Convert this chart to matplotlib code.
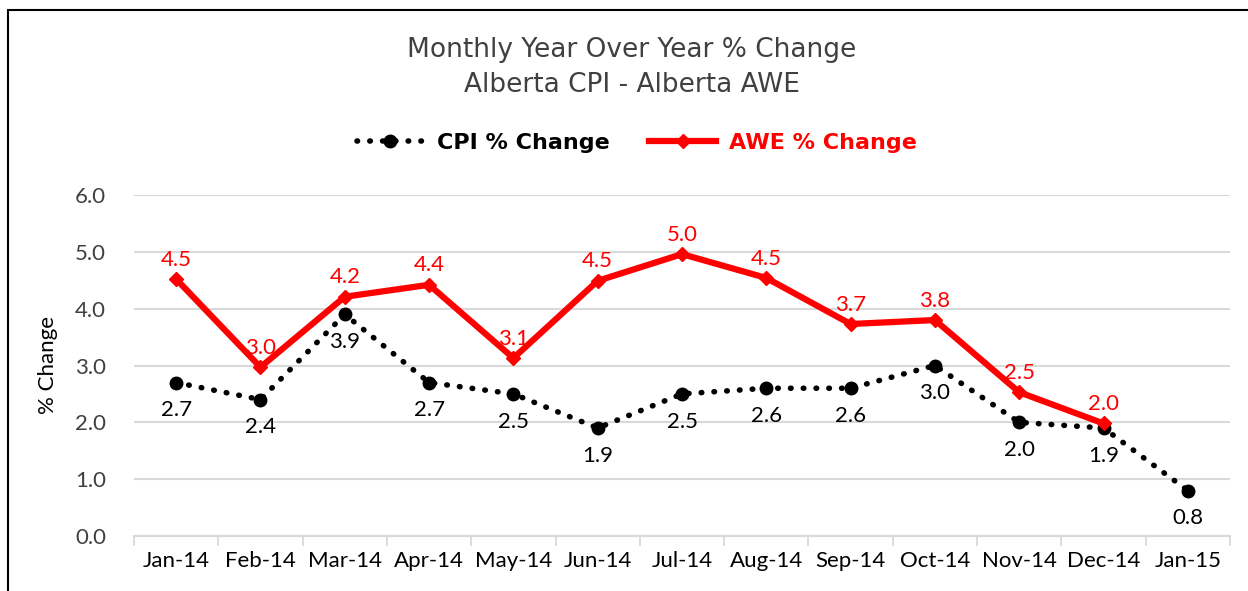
import matplotlib.pyplot as plt
from matplotlib.patches import Rectangle
import numpy as np

months = ["Jan-14", "Feb-14", "Mar-14", "Apr-14", "May-14", "Jun-14", "Jul-14",
          "Aug-14", "Sep-14", "Oct-14", "Nov-14", "Dec-14", "Jan-15"]
cpi = [2.7, 2.4, 3.9, 2.7, 2.5, 1.9, 2.5, 2.6, 2.6, 3.0, 2.0, 1.9, 0.8]
awe = [4.52, 2.97, 4.21, 4.42, 3.13, 4.49, 4.96, 4.54, 3.73, 3.80, 2.53, 1.98]
y_ticks = [0.0, 1.0, 2.0, 3.0, 4.0, 5.0, 6.0]

fig = plt.figure(figsize=(12.48, 5.91), dpi=100)
ax = fig.add_axes([134/1248, 1 - 536/591, (1230 - 134)/1248, (536 - 195)/591])

# outer chart frame (runs off the right and bottom of the picture)
fig.patches.append(Rectangle((8/1248, -0.1), 1.2, 1 - 10/591 + 0.1, transform=fig.transFigure,
                             fill=False, edgecolor="black", linewidth=1.5))

x = np.arange(len(months))
ax.plot(x, cpi, color="black", linewidth=4, linestyle=(0, (0.1, 2.2)),
        dash_capstyle="round", marker="o", markersize=9, label="CPI % Change")
ax.plot(x[:len(awe)], awe, color="#ff0000", linewidth=4.5, marker="D", markersize=7,
        solid_joinstyle="miter", label="AWE % Change")

for i, v in enumerate(cpi):
    ax.annotate(f"{v:.1f}", (i, v), xytext=(0, -20), textcoords="offset points",
                ha="center", va="center", fontsize=16, family="Lato", color="black")
for i, v in enumerate(awe):
    ax.annotate(f"{v:.1f}", (i, v), xytext=(0, 14), textcoords="offset points",
                ha="center", va="center", fontsize=16, family="Lato", color="#ff0000")

ax.set_xlim(-0.5, len(months) - 0.5)
ax.set_ylim(0, 6)
ax.set_yticks(y_ticks)
ax.set_yticklabels([f"{t:.1f}" for t in y_ticks], family="Lato", fontsize=16, color="#404040")
ax.set_xticks(x)
ax.set_xticklabels(months, family="Lato", fontsize=16, color="black")
ax.set_xticks(np.arange(-0.5, len(months)), minor=True)
ax.tick_params(axis="x", which="major", length=0, pad=11)
ax.tick_params(axis="x", which="minor", length=7, color="#d9d9d9", width=1.3)
ax.tick_params(axis="y", length=0, pad=20)
ax.grid(axis="y", color="#d9d9d9", linewidth=1.5)
ax.set_axisbelow(True)
for s in ["top", "right", "left"]:
    ax.spines[s].set_visible(False)
ax.spines["bottom"].set_color("#d9d9d9")
ax.spines["bottom"].set_linewidth(1.5)

ax.set_ylabel("% Change", family="Lato", fontsize=16, color="black", labelpad=12)

fig.text(632/1248, 1 - 50/591, "Monthly Year Over Year % Change", ha="center", va="center",
         fontsize=19, color="#404040", family="DejaVu Sans")
fig.text(632/1248, 1 - 85/591, "Alberta CPI - Alberta AWE", ha="center", va="center",
         fontsize=19, color="#404040", family="DejaVu Sans")

leg = fig.legend(loc="center", bbox_to_anchor=(637/1248, 1 - 143/591), ncol=2, frameon=False,
                 prop={"family": "DejaVu Sans", "weight": "bold", "size": 16},
                 handlelength=3.0, columnspacing=1.8, handletextpad=0.6)
for t, c in zip(leg.get_texts(), ["black", "#ff0000"]):
    t.set_color(c)

fig.savefig("out.png", dpi=100)
